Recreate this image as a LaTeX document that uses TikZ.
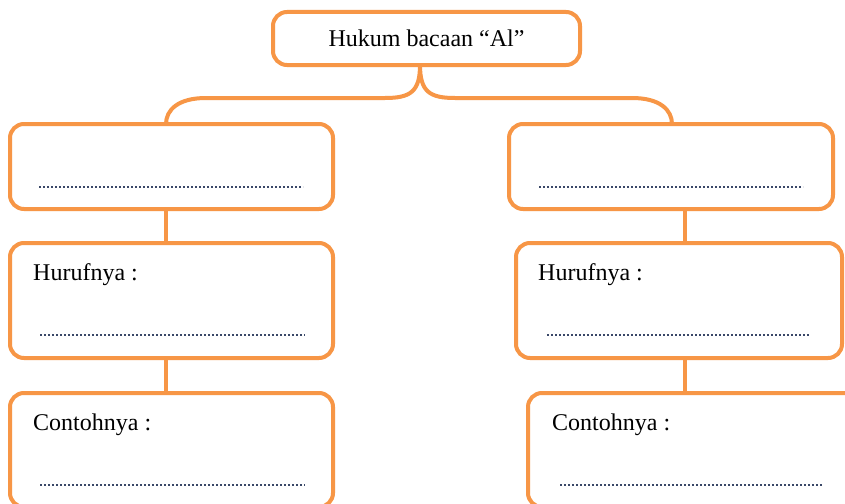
\documentclass[tikz,border=0pt]{standalone}
\usepackage{fontspec}
\setmainfont{Liberation Serif}
\definecolor{boxorange}{HTML}{F79646}
\definecolor{dotcol}{HTML}{3A4868}
\begin{document}
\begin{tikzpicture}[x=1pt,y=-1pt,
  box/.style={draw=boxorange, fill=white, line width=4pt, rounded corners=14pt,
    inner sep=0pt, outer sep=0pt},
  conn/.style={draw=boxorange, line width=4pt},
  lbl/.style={anchor=base west, inner sep=0pt, font=\fontsize{24}{28}\selectfont},
  dots/.style={draw=dotcol, line width=1.1pt, dash pattern=on 2pt off 2pt}]
\clip (0,0) rectangle (845,503);
\fill[white] (0,0) rectangle (845,503);
% helper x positions
\coordinate (tx) at (420,0);
\coordinate (lx) at (166,0);
\coordinate (rbx) at (672,0);
\coordinate (rx) at (685,0);
% boxes
\node[box, minimum width=307pt, minimum height=53pt, font=\fontsize{24}{28}\selectfont]
  (top) at (426.5,38.5) {Hukum bacaan “Al”};
\node[box, minimum width=323pt, minimum height=85pt] (L1) at (171.5,166.5) {};
\node[box, minimum width=323pt, minimum height=115pt] (L2) at (171.5,300.5) {};
\node[box, minimum width=323pt, minimum height=114pt] (L3) at (171.5,450) {};
\node[box, minimum width=324pt, minimum height=85pt] (R1) at (671,166.5) {};
\node[box, minimum width=326pt, minimum height=115pt] (R2) at (679,300.5) {};
\node[box, minimum width=330pt, minimum height=114pt] (R3) at (693,450) {};
% connectors
\draw[conn] (top.south -| tx) .. controls (420,92) and (410,98) .. (385,98)
  -- (206,98) .. controls (178,98) and (166,110) .. (L1.north -| lx);
\draw[conn] (top.south -| tx) .. controls (420,92) and (430,98) .. (455,98)
  -- (632,98) .. controls (660,98) and (672,110) .. (R1.north -| rbx);
\draw[conn] (L1.south -| lx) -- (L2.north -| lx);
\draw[conn] (L2.south -| lx) -- (L3.north -| lx);
\draw[conn] (R1.south -| rx) -- (R2.north -| rx);
\draw[conn] (R2.south -| rx) -- (R3.north -| rx);
% texts
\node[lbl] (LH) at (33,280) {Hurufnya :};
\node[lbl] (LC) at (33,430) {Contohnya :};
\node[lbl] (RH) at (538,280) {Hurufnya :};
\node[lbl] (RC) at (552,430) {Contohnya :};
% dotted answer lines
\draw[dots] (39,187) -- (303,187);
\draw[dots] (40,335) -- (305,335);
\draw[dots] (40,485) -- (305,485);
\draw[dots] (539,187) -- (803,187);
\draw[dots] (547,335) -- (810,335);
\draw[dots] (560,485) -- (823,485);
\end{tikzpicture}
\end{document}
